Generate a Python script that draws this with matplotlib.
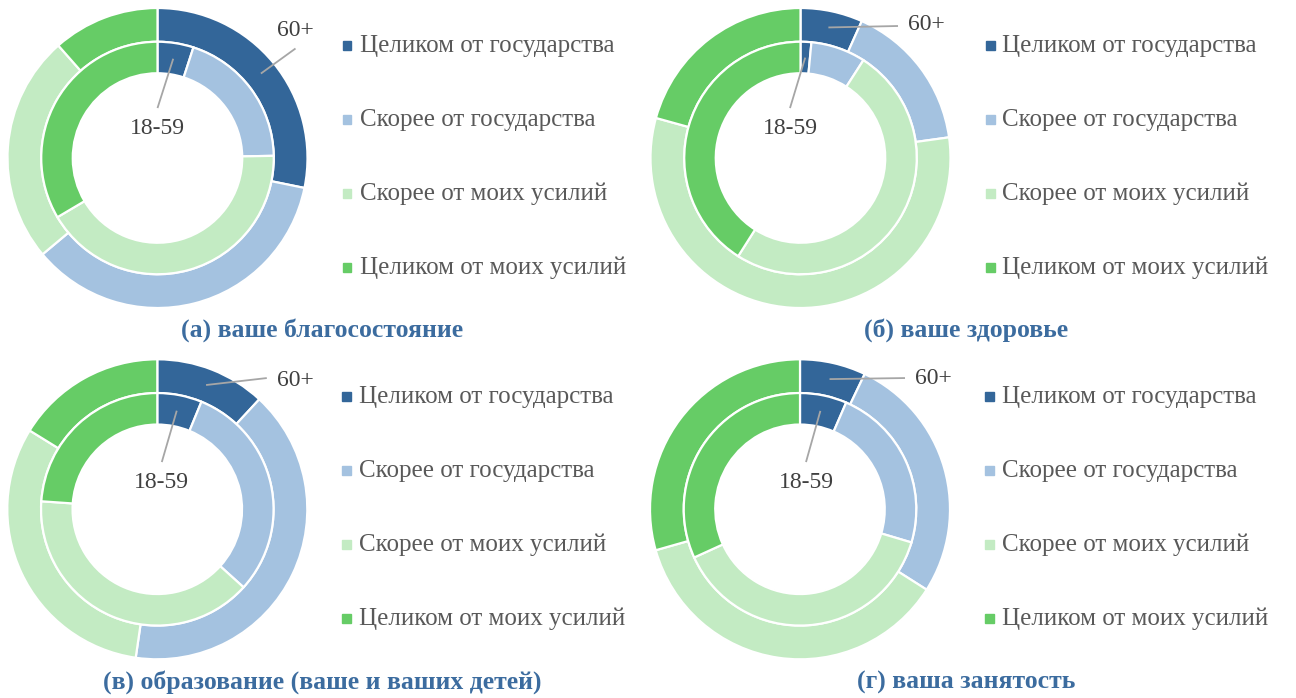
import numpy as np
import matplotlib.pyplot as plt
from matplotlib.patches import Rectangle

plt.rcParams['font.family'] = ['Liberation Serif', 'DejaVu Serif']

# categories and panel captions
categories = ["Целиком от государства", "Скорее от государства",
              "Скорее от моих усилий", "Целиком от моих усилий"]
captions = ["(а) ваше благосостояние", "(б) ваше здоровье",
            "(в) образование (ваше и ваших детей)", "(г) ваша занятость"]

# shares, % (outer ring = 60+, inner ring = 18-59)
a_60 = [28.2, 35.7, 24.6, 11.5]
a_18 = [5.0, 19.7, 41.8, 33.5]
b_60 = [6.7, 16.1, 56.5, 20.7]
b_18 = [1.5, 7.6, 49.9, 41.0]
c_60 = [11.9, 40.4, 31.5, 16.2]
c_18 = [6.2, 30.5, 39.4, 23.9]
d_60 = [7.1, 26.9, 36.6, 29.4]
d_18 = [6.5, 23.1, 38.6, 31.8]

colors = ["#336699", "#a4c2e0", "#c3ebc3", "#66cc66"]
text_grey = "#595959"
caption_blue = "#3c6c9f"

W, H = 1296, 698
R = 150  # donut radius, px
fig = plt.figure(figsize=(W / 100, H / 100), dpi=100)

panels = [
    # data, center (px), leader end / label position for 60+ and 18-59 (radius units)
    (a_60, a_18, (157.5, 158.0), (0.92, 0.73), (0.917, 0.853), (0.0, 0.333), (0.0, 0.2)),
    (b_60, b_18, (800.5, 158.0), (0.65, 0.88), (0.84, 0.887), (-0.07, 0.333), (-0.07, 0.2)),
    (c_60, c_18, (157.3, 509.3), (0.73, 0.875), (0.918, 0.862), (0.03, 0.315), (0.03, 0.182)),
    (d_60, d_18, (800.0, 509.3), (0.70, 0.875), (0.887, 0.869), (0.04, 0.315), (0.04, 0.182)),
]

lim = 1.2
for i, (old, young, (cx, cy), end60, txt60, end18, txt18) in enumerate(panels):
    ax = fig.add_axes([(cx - lim * R) / W, (H - cy - lim * R) / H,
                       2 * lim * R / W, 2 * lim * R / H])
    outer, _ = ax.pie(old, radius=1.0, startangle=90, counterclock=False,
                      colors=colors,
                      wedgeprops=dict(width=0.225, edgecolor="white", linewidth=1.6))
    inner, _ = ax.pie(young, radius=0.775, startangle=90, counterclock=False,
                      colors=colors,
                      wedgeprops=dict(width=0.21, edgecolor="white", linewidth=1.6))
    ax.set_xlim(-lim, lim)
    ax.set_ylim(-lim, lim)
    ax.set_aspect("equal")
    ax.axis("off")

    # leader lines from the middle of the first wedge of each ring
    for wedges, r_mid, end, txt, lab in [(outer, 0.89, end60, txt60, "60+"),
                                         (inner, 0.67, end18, txt18, "18-59")]:
        w = wedges[0]
        mid = np.deg2rad((w.theta1 + w.theta2) / 2)
        x0, y0 = r_mid * np.cos(mid), r_mid * np.sin(mid)
        ax.plot([x0, end[0]], [y0, end[1]], color="#a6a6a6", lw=1.3,
                solid_capstyle="butt", clip_on=False)
        ax.text(txt[0], txt[1], lab, ha="center", va="center",
                fontsize=17, color="#404040", clip_on=False)

    # legend
    for k, (cat, col) in enumerate(zip(categories, colors)):
        ym = cy - 113 + 74 * k
        fig.patches.append(Rectangle(((cx + 185) / W, (H - ym - 4.5) / H),
                                     9 / W, 9 / H, color=col,
                                     transform=fig.transFigure))
        fig.text((cx + 202) / W, (H - ym - 7) / H, cat, ha="left",
                 va="baseline", fontsize=18, color=text_grey)

    # caption
    cap_x = 322 if i % 2 == 0 else 966
    fig.text(cap_x / W, (H - cy - 179) / H, captions[i], ha="center",
             va="baseline", fontsize=18.5, fontweight="bold", color=caption_blue)

fig.savefig("out.png", dpi=100, facecolor="white")
